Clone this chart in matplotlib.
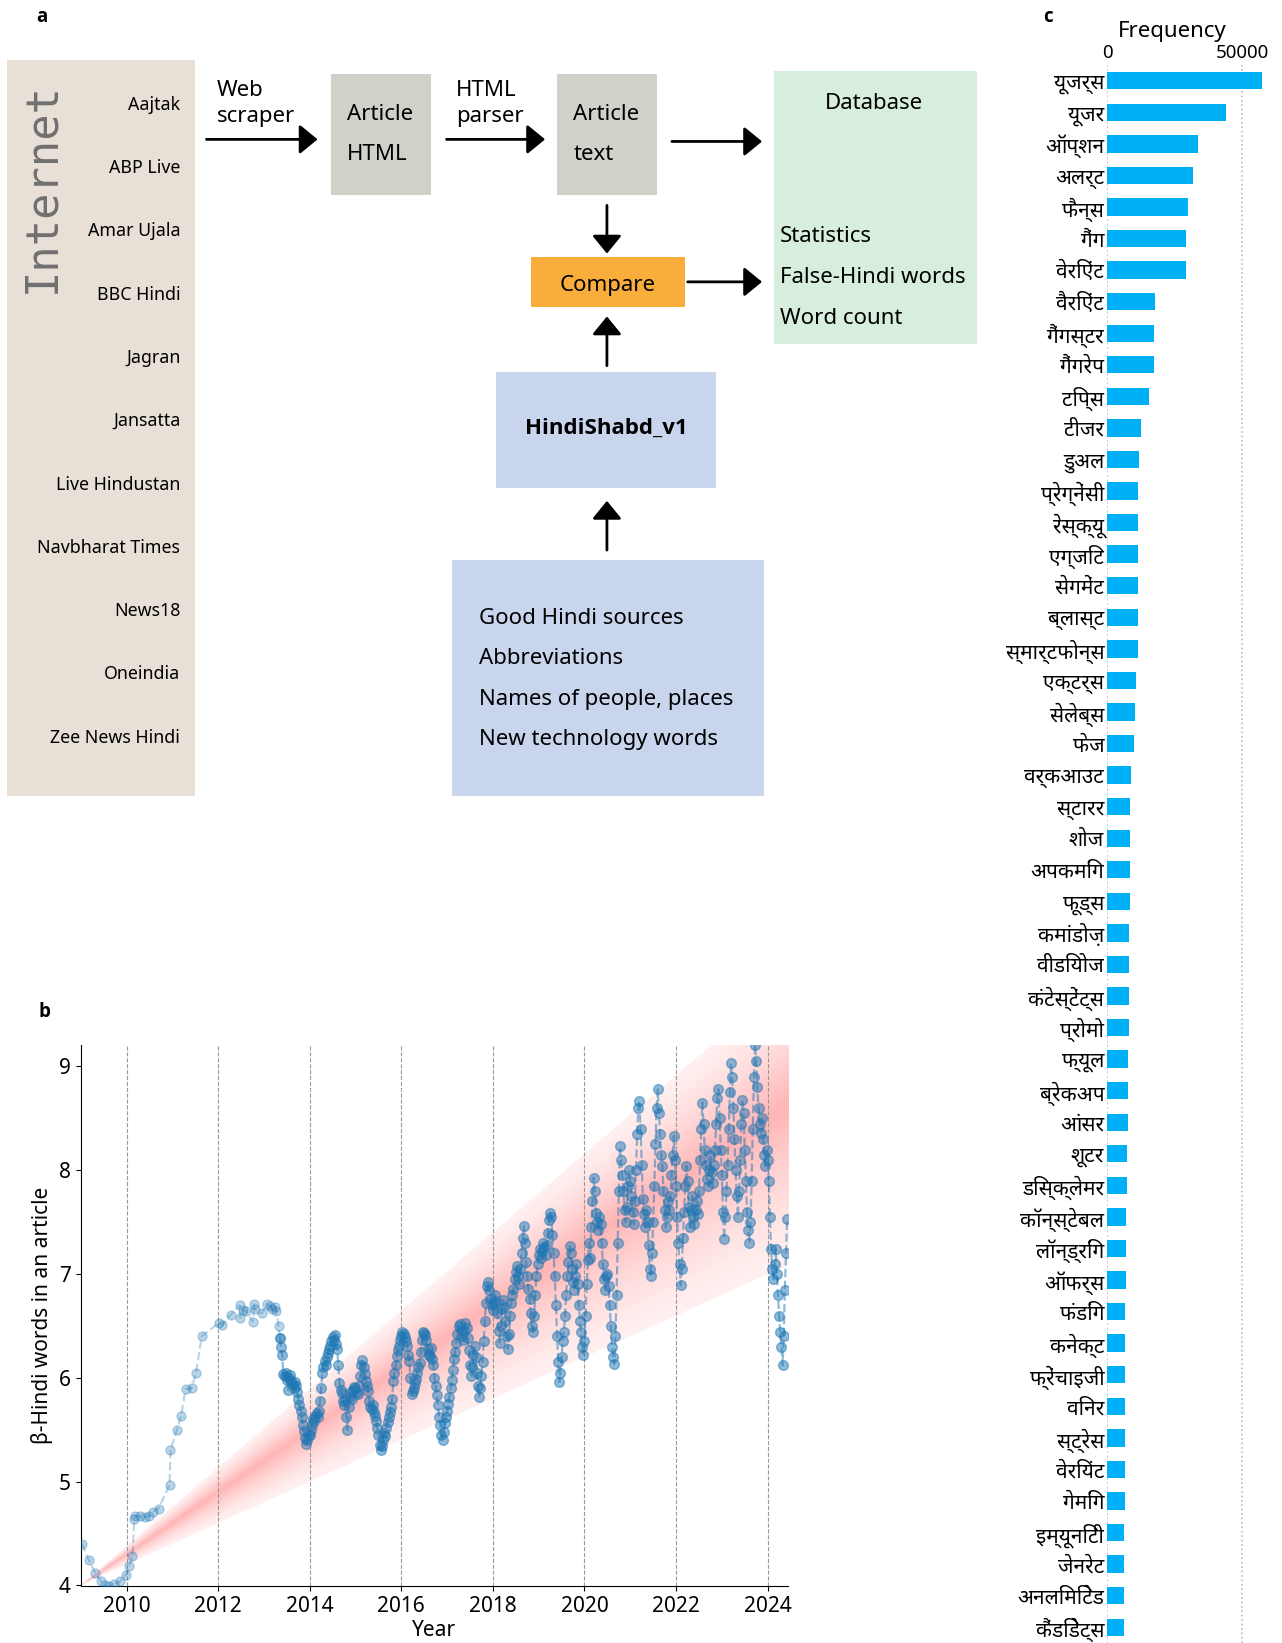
import numpy as np
import matplotlib
matplotlib.use('Agg')
import matplotlib.pyplot as plt
from matplotlib import font_manager
from matplotlib.ft2font import FT2Font
from matplotlib.patches import Rectangle

# ---------------- data ----------------
# panel a: news sources
sources = ['Aajtak', 'ABP Live', 'Amar Ujala', 'BBC Hindi', 'Jagran', 'Jansatta',
           'Live Hindustan', 'Navbharat Times', 'News18', 'Oneindia', 'Zee News Hindi']
db_items = ['Statistics', 'False-Hindi words', 'Word count']
dict_items = ['Good Hindi sources', 'Abbreviations', 'Names of people, places',
              'New technology words']

# panel b: sparse early part (year, value)
yr_early = [2009.03, 2009.18, 2009.32, 2009.44, 2009.53, 2009.62, 2009.73, 2009.86, 2009.98,
            2010.06, 2010.13, 2010.17, 2010.19, 2010.30, 2010.41, 2010.50, 2010.57, 2010.70,
            2010.94, 2010.96, 2011.10, 2011.19, 2011.29, 2011.42, 2011.52, 2011.64, 2012.02,
            2012.09, 2012.28, 2012.47, 2012.48, 2012.55, 2012.62, 2012.76, 2012.78, 2012.80,
            2012.95, 2013.07, 2013.14, 2013.18, 2013.25, 2013.27, 2013.32]
val_early = [4.40, 4.24, 4.12, 4.04, 4.00, 3.99, 4.01, 4.04, 4.10,
             4.19, 4.28, 4.64, 4.67, 4.67, 4.66, 4.67, 4.71, 4.74,
             4.97, 5.30, 5.50, 5.63, 5.89, 5.90, 6.05, 6.40, 6.53,
             6.51, 6.61, 6.70, 6.58, 6.65, 6.64, 6.54, 6.71, 6.66,
             6.62, 6.71, 6.69, 6.66, 6.68, 6.64, 6.50]
# dense part, evenly spaced within each span
v2013 = [6.38, 6.30, 6.22, 6.04, 6.02, 6.05, 5.98, 5.88, 6.00, 6.03, 5.97, 5.94, 5.90,
         5.96, 5.92, 5.86, 5.80, 5.74, 5.68, 5.62, 5.55, 5.49, 5.42, 5.36, 5.40, 5.45]
v2014 = [5.45, 5.50, 5.55, 5.60, 5.58, 5.63, 5.66, 5.62, 5.68, 5.78, 5.90, 6.05, 6.10,
         6.16, 6.12, 6.20, 6.24, 6.28, 6.31, 6.35, 6.39, 6.36, 6.41, 6.33, 6.28, 6.12,
         5.95, 5.88, 5.85, 5.78, 5.74, 5.80, 5.62, 5.50, 5.72, 5.82, 5.86, 5.80, 5.88, 5.91]
v2015 = [5.90, 5.86, 5.84, 5.92, 6.02, 6.12, 6.17, 6.10, 6.04, 5.97, 5.92, 5.87, 5.78,
         5.72, 5.70, 5.74, 5.67, 5.63, 5.58, 5.52, 5.45, 5.35, 5.30, 5.34, 5.40, 5.47,
         5.44, 5.52, 5.57, 5.62, 5.67, 5.72, 5.80, 5.97, 6.05, 6.12, 6.21, 6.27, 6.31, 6.36]
v2016 = [6.40, 6.44, 6.42, 6.39, 6.35, 6.31, 6.22, 6.16, 6.00, 5.84, 5.87, 5.90, 5.95,
         5.99, 6.05, 6.10, 6.14, 6.25, 6.36, 6.44, 6.43, 6.41, 6.36, 6.28, 6.22, 6.21,
         6.29, 6.18, 6.12, 6.00, 5.92, 5.83, 5.74, 5.62, 5.55, 5.45, 5.40, 5.48, 5.56, 5.62]
v2017 = [5.68, 5.75, 5.82, 5.90, 5.98, 6.08, 6.18, 6.25, 6.34, 6.42, 6.50, 6.52, 6.46,
         6.40, 6.36, 6.45, 6.53, 6.48, 6.38, 6.27, 6.12, 6.02, 6.10, 6.22, 6.31, 6.20,
         6.05, 5.92, 5.82, 5.90, 6.02, 6.15, 6.35, 6.55, 6.72, 6.88, 6.92, 6.85, 6.76, 6.70]
v2018 = [6.65, 6.72, 6.80, 6.74, 6.62, 6.45, 6.34, 6.50, 6.66, 6.75, 6.68, 6.55, 6.40,
         6.28, 6.42, 6.60, 6.72, 6.80, 6.86, 6.95, 7.02, 7.08, 6.98, 6.90, 7.05, 7.20,
         7.35, 7.46, 7.30, 7.12, 6.98, 6.86, 6.76, 6.62, 6.50, 6.44, 6.60, 6.80, 6.98, 7.10]
v2019 = [7.18, 7.24, 7.15, 7.22, 7.30, 7.26, 7.18, 7.28, 7.40, 7.52, 7.59, 7.55, 7.38,
         7.20, 6.98, 6.70, 6.40, 6.15, 5.96, 6.05, 6.20, 6.35, 6.44, 6.60, 6.80, 6.98,
         7.12, 7.27, 7.20, 7.05, 6.92, 6.85, 6.98, 7.10, 6.90, 6.70, 6.55, 6.44, 6.30, 6.22]
v2020 = [6.35, 6.60, 6.90, 7.14, 7.30, 7.15, 7.45, 7.70, 7.93, 7.80, 7.59, 7.50, 7.42,
         7.55, 7.48, 7.30, 7.10, 6.95, 6.85, 6.98, 7.00, 6.88, 6.70, 6.50, 6.30, 6.20,
         6.13, 6.40, 6.80, 7.30, 7.80, 8.23, 8.10, 7.95, 7.80, 7.62, 7.50, 7.65, 7.85, 8.00]
v2021 = [7.90, 7.75, 7.60, 7.48, 7.70, 8.00, 8.35, 8.60, 8.67, 8.40, 8.05, 7.72, 7.58,
         7.45, 7.62, 7.50, 7.28, 7.05, 6.98, 7.20, 7.50, 7.85, 8.25, 8.60, 8.78, 8.55,
         8.35, 8.15, 8.04, 7.80, 7.62, 7.45, 7.55, 7.70, 7.62, 7.75, 7.95, 8.15, 8.33, 8.10]
v2022 = [7.85, 7.55, 7.30, 7.10, 6.89, 7.05, 7.35, 7.60, 7.85, 8.04, 7.90, 7.65, 7.45,
         7.62, 7.75, 7.55, 7.48, 7.62, 7.70, 7.58, 7.80, 8.10, 8.40, 8.65, 8.45, 8.20,
         8.05, 7.92, 7.85, 8.00, 8.15, 7.98, 7.88, 8.05, 8.20, 8.45, 8.70, 8.78, 8.50, 8.20]
v2023 = [7.95, 7.60, 7.34, 7.55, 7.80, 8.05, 8.40, 8.75, 9.03, 8.90, 8.60, 8.30, 8.00,
         7.75, 7.55, 7.80, 8.10, 8.45, 8.68, 8.55, 8.20, 7.90, 7.60, 7.42, 7.30, 7.50,
         7.90, 8.40, 8.90, 9.21, 9.05, 8.80, 8.60, 8.45, 8.36, 8.50, 8.30, 8.15, 8.04, 8.20]
v2024 = [8.10, 7.90, 7.55, 7.24, 7.05, 6.95, 7.10, 7.24, 7.00, 6.80, 6.60, 6.44, 6.30,
         6.12, 6.40, 6.85, 7.20, 7.53]
dense = [(2013.35, 2014.0, v2013), (2014.0, 2015.0, v2014), (2015.0, 2016.0, v2015),
         (2016.0, 2017.0, v2016), (2017.0, 2018.0, v2017), (2018.0, 2019.0, v2018),
         (2019.0, 2020.0, v2019), (2020.0, 2021.0, v2020), (2021.0, 2022.0, v2021),
         (2022.0, 2023.0, v2022), (2023.0, 2024.0, v2023), (2024.0, 2024.45, v2024)]
# trend fan: origin and slopes (lower, centre, upper) per year
fan_origin = (2008.97, 3.99)
fan_slopes = (0.200, 0.300, 0.378)

# panel c: word frequencies
words = ['यूजर्स', 'यूजर', 'ऑप्शन', 'अलर्ट', 'फैन्स', 'गैंग', 'वेरिएंट', 'वैरिएंट', 'गैंगस्टर',
         'गैंगरेप', 'टिप्स', 'टीजर', 'डुअल', 'प्रेग्नेंसी', 'रेस्क्यू', 'एग्जिट', 'सेगमेंट', 'ब्लास्ट',
         'स्मार्टफोन्स', 'एक्टर्स', 'सेलेब्स', 'फेज', 'वर्कआउट', 'स्टारर', 'शोज', 'अपकमिंग',
         'फूड्स', 'कमांडोज़', 'वीडियोज', 'कंटेस्टेंट्स', 'प्रोमो', 'फ्यूल', 'ब्रेकअप', 'आंसर',
         'शूटर', 'डिस्क्लेमर', 'कॉन्स्टेबल', 'लॉन्ड्रिंग', 'ऑफर्स', 'फंडिंग', 'कनेक्ट',
         'फ्रेंचाइजी', 'विनर', 'स्ट्रेस', 'वेरियंट', 'गेमिंग', 'इम्यूनिटी', 'जेनरेट',
         'अनलिमिटेड', 'कैंडिडेट्स']
freq = [57200, 43800, 33800, 31600, 30100, 29300, 29300, 17900, 17500,
        17200, 15700, 12400, 12000, 11300, 11300, 11300, 11300, 11300,
        11300, 10900, 10500, 10100, 9000, 8650, 8650, 8650,
        8650, 8300, 8300, 8300, 8300, 7900, 7900, 7900,
        7500, 7500, 7150, 7150, 7150, 6800, 6800,
        6800, 6800, 6800, 6800, 6800, 6450, 6450,
        6450, 6450]


# ---------------- fonts ----------------
def find_font(ch):
    for f in font_manager.fontManager.ttflist:
        try:
            if ord(ch) in FT2Font(f.fname).get_charmap():
                return f.name
        except Exception:
            pass
    return None

def bold_family():
    for name in ['Noto Sans', 'Open Sans', 'Roboto', 'Lato', 'DejaVu Sans']:
        for f in font_manager.fontManager.ttflist:
            w = f.weight if isinstance(f.weight, int) else 400
            if f.name == name and w >= 600 and f.style == 'normal':
                return name
    return 'DejaVu Sans'

deva = find_font('य')
fams = ['Noto Sans'] + ([deva] if deva else []) + ['DejaVu Sans']
plt.rcParams['font.family'] = fams
bfam = bold_family()

W, H = 1223, 1568
fig = plt.figure(figsize=(12.82, 16.43), dpi=100)

# ---------------- panel a (diagram, in pixel coords) ----------------
ax0 = fig.add_axes([0, 0, 1, 1])
ax0.set_xlim(0, W)
ax0.set_ylim(H, 0)
ax0.axis('off')

def box(x0, y0, x1, y1, c):
    ax0.add_patch(Rectangle((x0, y0), x1 - x0, y1 - y0, facecolor=c, edgecolor='none'))

def arrow(x0, y0, x1, y1):
    ax0.annotate('', xy=(x1, y1), xytext=(x0, y0),
                 arrowprops=dict(arrowstyle='-|>,head_length=0.55,head_width=0.45',
                                 lw=2, color='k', shrinkA=0, shrinkB=0, mutation_scale=20))

box(7, 57, 186, 760, '#e8e0d6')
box(316, 71, 411, 186, '#d1d1c9')
box(531, 71, 627, 186, '#d1d1c9')
box(738, 68, 932, 328, '#d6eedb')
box(507, 245, 653, 293, '#f9ae3b')
box(473, 355, 683, 466, '#c9d5ed')
box(431, 534, 729, 760, '#c9d5ed')

arrow(197, 133, 303, 133)
arrow(426, 133, 520, 133)
arrow(641, 135, 727, 135)
arrow(579, 196, 579, 242)
arrow(656, 269, 727, 269)
arrow(579, 349, 579, 302)
arrow(579, 525, 579, 478)

for x, y, s in [(40, 16, 'a'), (42, 966, 'b'), (1000, 16, 'c')]:
    ax0.text(x, y, s, fontsize=13.5, fontweight='bold', family=bfam, ha='center', va='center')

ax0.text(40, 78, 'Internet', rotation=90, fontsize=31.5, color='#707070',
         family='DejaVu Sans Mono', ha='center', va='top')
for i, s in enumerate(sources):
    ax0.text(172, 100 + i * 60.4, s, fontsize=12.8, ha='right', va='center')

fs = 16
ax0.text(207, 86, 'Web', fontsize=fs, va='center')
ax0.text(207, 111, 'scraper', fontsize=fs, va='center')
ax0.text(331, 109, 'Article', fontsize=fs, va='center')
ax0.text(331, 147, 'HTML', fontsize=fs, va='center')
ax0.text(435, 86, 'HTML', fontsize=fs, va='center')
ax0.text(435, 111, 'parser', fontsize=fs, va='center')
ax0.text(547, 109, 'Article', fontsize=fs, va='center')
ax0.text(547, 147, 'text', fontsize=fs, va='center')
ax0.text(834, 99, 'Database', fontsize=fs, ha='center', va='center')
for i, s in enumerate(db_items):
    ax0.text(744, 226 + i * 39, s, fontsize=fs, va='center')
ax0.text(580, 272, 'Compare', fontsize=fs, ha='center', va='center')
ax0.text(578, 409, 'HindiShabd_v1', fontsize=fs, fontweight='bold', family=bfam,
         ha='center', va='center')
for i, s in enumerate(dict_items):
    ax0.text(457, 590 + i * 38.7, s, fontsize=fs, va='center')

# ---------------- panel b ----------------
axb = fig.add_axes([77 / W, 1 - 1514 / H, (752 - 77) / W, (1514 - 997) / H])
xlim = (2009.0, 2024.45)
ylim = (3.99, 9.21)

gx = np.linspace(xlim[0], xlim[1], 900)
gy = np.linspace(ylim[0], ylim[1], 700)
GX, GY = np.meshgrid(gx, gy)
S = (GY - fan_origin[1]) / np.maximum(GX - fan_origin[0], 1e-6)
lo, mid, hi = fan_slopes
d = np.where(S < mid, (mid - S) / (mid - lo), (S - mid) / (hi - mid))
inside = (d <= 1) & (GY >= fan_origin[1])
alpha = np.where(inside, 0.08 + 0.31 * np.clip(1 - d, 0, 1) ** 1.4, 0)
rgba = np.zeros(GX.shape + (4,))
rgba[..., 0] = 1.0
rgba[..., 1] = 0.25
rgba[..., 2] = 0.25
rgba[..., 3] = alpha
axb.imshow(rgba, origin='lower', extent=(xlim[0], xlim[1], ylim[0], ylim[1]),
           aspect='auto', interpolation='bilinear', zorder=0)

yrs = list(yr_early)
vals = list(val_early)
for a, b, v in dense:
    yrs += list(np.linspace(a, b, len(v), endpoint=False))
    vals += v
n0 = len(yr_early)
axb.plot(yrs[:n0 + 1], vals[:n0 + 1], 'o--', color='#1f77b4', alpha=0.3, ms=6.5, lw=1.6, zorder=3)
axb.plot(yrs[n0:], vals[n0:], 'o--', color='#1f77b4', alpha=0.5, ms=7, lw=1.6, zorder=3)

axb.set_xlim(*xlim)
axb.set_ylim(*ylim)
axb.set_xticks(range(2010, 2025, 2))
axb.set_yticks(range(4, 10))
axb.grid(axis='x', linestyle='--', color='#999999', lw=0.8)
axb.spines['top'].set_visible(False)
axb.spines['right'].set_visible(False)
axb.tick_params(labelsize=15)
axb.set_xlabel('Year', fontsize=15, labelpad=2)
axb.set_ylabel('β-Hindi words in an article', fontsize=15)

# ---------------- panel c ----------------
axc = fig.add_axes([1056 / W, 0, (1211 - 1056) / W, 1 - 62 / H])
yy = np.arange(len(words))
axc.barh(yy, freq, height=0.55, color='#00b0f6', zorder=2)
axc.set_ylim(len(words) - 0.5, -0.5)
axc.set_xlim(0, 60000)
axc.set_yticks(yy)
axc.set_yticklabels(words, fontsize=15)
axc.set_xticks([0, 50000])
axc.xaxis.set_label_position('top')
axc.set_xlabel('Frequency', fontsize=16, labelpad=5)
axc.xaxis.set_label_coords(0.40, 1.0 + 22 / 1506)
axc.xaxis.label.set_va('bottom')
axc.tick_params(axis='x', top=True, labeltop=True, bottom=False, labelbottom=False,
                length=0, labelsize=13.5, pad=2)
axc.tick_params(axis='y', length=0, pad=2)
for sp in axc.spines.values():
    sp.set_visible(False)
axc.grid(axis='x', linestyle=':', color='#bbbbbb', lw=1.2, zorder=0)

fig.savefig('out.png', dpi=100)
